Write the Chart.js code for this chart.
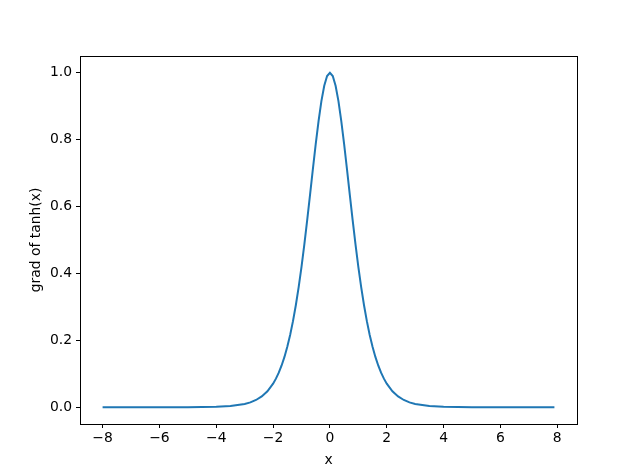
<!DOCTYPE html>
<html>
<head>
<meta charset="utf-8">
<script src="https://cdn.jsdelivr.net/npm/chart.js@4/dist/chart.umd.min.js"></script>
<style>
html,body{margin:0;padding:0;background:#fff;}
#wrap{width:640px;height:476px;position:relative;}
</style>
</head>
<body>
<div id="wrap"><canvas id="c" width="640" height="476"></canvas></div>
<script>
// x positions of the plotted curve
const xValues = [-8.0, -7.0, -6.0, -5.0, -4.5, -4.0, -3.5, -3.0, -2.8, -2.6, -2.4, -2.2,
  -2.0, -1.9, -1.8, -1.7, -1.6, -1.5, -1.4, -1.3, -1.2, -1.1, -1.0, -0.9, -0.8, -0.7, -0.6, -0.5, -0.4, -0.3, -0.2, -0.1,
  0.0, 0.1, 0.2, 0.3, 0.4, 0.5, 0.6, 0.7, 0.8, 0.9, 1.0, 1.1, 1.2, 1.3, 1.4, 1.5, 1.6, 1.7, 1.8, 1.9, 2.0,
  2.2, 2.4, 2.6, 2.8, 3.0, 3.5, 4.0, 4.5, 5.0, 6.0, 7.0, 7.9];
// grad of tanh(x)
const gradValues = [0.0000, 0.0000, 0.0000, 0.0002, 0.0005, 0.0013, 0.0036, 0.0099, 0.0147, 0.0218, 0.0324, 0.0479,
  0.0707, 0.0856, 0.1035, 0.1250, 0.1505, 0.1807, 0.2161, 0.2574, 0.3050, 0.3592, 0.4200, 0.4869, 0.5591, 0.6347, 0.7116, 0.7864, 0.8556, 0.9151, 0.9610, 0.9901,
  1.0000, 0.9901, 0.9610, 0.9151, 0.8556, 0.7864, 0.7116, 0.6347, 0.5591, 0.4869, 0.4200, 0.3592, 0.3050, 0.2574, 0.2161, 0.1807, 0.1505, 0.1250, 0.1035, 0.0856, 0.0707,
  0.0479, 0.0324, 0.0218, 0.0147, 0.0099, 0.0036, 0.0013, 0.0005, 0.0002, 0.0000, 0.0000, 0.0000];
const xTicks = [-8, -6, -4, -2, 0, 2, 4, 6, 8];
const yTicks = [0.0, 0.2, 0.4, 0.6, 0.8, 1.0];
const xLabel = 'x';
const yLabel = 'grad of tanh(x)';

const points = xValues.map((x, i) => ({x: x, y: gradValues[i]}));
const FONT = 'DejaVu Sans';

const frame = {
  id: 'frame',
  afterDraw(chart) {
    const a = chart.chartArea, ctx = chart.ctx;
    ctx.save();
    ctx.strokeStyle = '#000';
    ctx.lineWidth = 1;
    ctx.strokeRect(Math.round(a.left) + 0.5, Math.round(a.top) + 0.5, Math.round(a.right - a.left), Math.round(a.bottom - a.top));
    ctx.restore();
  }
};

new Chart(document.getElementById('c'), {
  type: 'line',
  data: {
    datasets: [{
      data: points,
      borderColor: '#1f77b4',
      borderWidth: 2,
      pointRadius: 0,
      tension: 0,
      fill: false
    }]
  },
  options: {
    responsive: false,
    animation: false,
    events: [],
    layout: {padding: {left: 0, top: 56, right: 63, bottom: 0}},
    plugins: {legend: {display: false}, tooltip: {enabled: false}},
    scales: {
      x: {
        type: 'linear',
        min: -8.795, max: 8.695,
        afterBuildTicks: s => { s.ticks = xTicks.map(v => ({value: v})); },
        afterFit: s => { s.height = 52; },
        grid: {display: true, drawOnChartArea: false, drawTicks: true, tickLength: 4, color: '#000', lineWidth: 1},
        border: {display: false},
        ticks: {
          color: '#000', font: {family: FONT, size: 13.9}, padding: 2, maxRotation: 0,
          callback: v => String(v).replace('-', '\u2212')
        },
        title: {display: true, text: xLabel, color: '#000', font: {family: FONT, size: 13.9}, padding: {top: 0, bottom: 7}}
      },
      y: {
        type: 'linear',
        min: -0.05, max: 1.05,
        afterBuildTicks: s => { s.ticks = yTicks.map(v => ({value: v})); },
        afterFit: s => { s.width = 80; },
        grid: {display: true, drawOnChartArea: false, drawTicks: true, tickLength: 4, color: '#000', lineWidth: 1},
        border: {display: false},
        ticks: {
          color: '#000', font: {family: FONT, size: 13.9}, padding: 4,
          callback: v => Number(v).toFixed(1)
        },
        title: {display: true, text: yLabel, color: '#000', font: {family: FONT, size: 13.9}, padding: {top: 28, bottom: 0}}
      }
    }
  },
  plugins: [frame]
});
</script>
</body>
</html>
